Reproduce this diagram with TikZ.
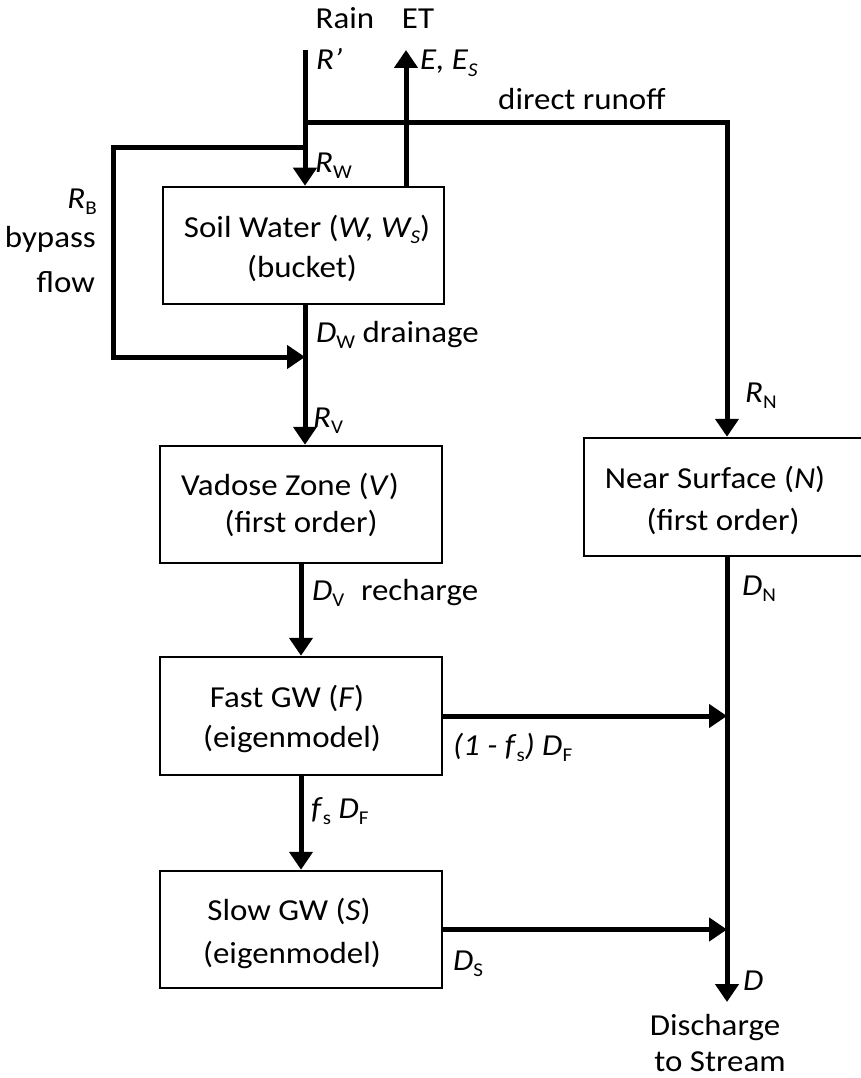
\documentclass[tikz,border=0pt]{standalone}
\usepackage{fontspec}
\setmainfont{Carlito}[FakeStretch=1.08]
\usetikzlibrary{arrows.meta}
\newcommand\dfont{\fontsize{30.5}{39}\selectfont}
\newcommand\sbs[1]{\raisebox{-6.5pt}{\fontsize{19.5}{19.5}\selectfont #1}}
\tikzset{
  box/.style={draw, line width=2.5pt, inner sep=0pt},
  flow/.style={line width=5pt, -{Triangle[length=18pt 0 0,width=23pt 0]}},
  lbl/.style={inner sep=0pt, font=\dfont},
  lw/.style={lbl, anchor=base west},
  le/.style={lbl, anchor=base east},
  lc/.style={lbl, anchor=base},
}
\begin{document}
\begin{tikzpicture}[x=1pt,y=-1pt]
\useasboundingbox (0,0) rectangle (861,1078);
\clip (0,0) rectangle (861,1078);
\fill[white] (0,0) rectangle (861,1078);

% boxes
\node[box, minimum width=281pt, minimum height=117pt] (soil) at (303.5,245.5) {};
\node[box, minimum width=282pt, minimum height=117pt] (vadose) at (301,504.5) {};
\node[box, minimum width=282pt, minimum height=118pt] (fast) at (301,716) {};
\node[box, minimum width=282pt, minimum height=117pt] (slow) at (301,929.5) {};
\node[box, minimum width=286pt, minimum height=118pt] (near) at (727,497) {};

% coordinates
\coordinate (rtop) at (305,50);
\coordinate (ettop) at (406,50);
\coordinate (rsplit) at (305,123);
\coordinate (bsplit) at (305,148);
\coordinate (bcorner) at (113,357);
\coordinate (bjoin) at (305,357);
\coordinate (dout) at (727,1002);

% connectors
\draw[flow] (rtop) -- (rtop |- soil.north);
\draw[flow] (ettop |- soil.north) -- (ettop);
\draw[flow] (rsplit) -| (near.north);
\draw[flow] (bsplit) -| (bcorner) -- (bjoin);
\draw[flow] (soil.south -| bjoin) -- (bjoin |- vadose.north);
\draw[flow] (vadose.south) -- (fast.north);
\draw[flow] (fast.south) -- (slow.north);
\draw[flow] (near.south) -- (dout);
\draw[flow] (fast.east) -- (fast.east -| dout);
\draw[flow] (slow.east) -- (slow.east -| dout);

% labels
\node[lc] (rain) at (345,29) {Rain};
\node[lc] (et) at (418,29) {ET};
\node[lw] (rp) at (316,70) {\textit{R’}};
\node[lw] (ees) at (420,70) {\textit{E, E\sbs{S}}};
\node[lw] (dr) at (498,110) {direct runoff};
\node[lw] (rw) at (315,172) {\textit{R}\sbs{W}};
\node[lc] (soilt1) at (307,237) {Soil Water (\textit{W, W\sbs{S}})};
\node[lc] (soilt2) at (302,277) {(bucket)};
\node[le] (rb) at (97,208) {\textit{R}\sbs{B}};
\node[le] (rb2) at (96,247) {bypass};
\node[le] (rb3) at (95,292) {flow};
\node[lw] (dw) at (316,342) {\textit{D}\sbs{W} drainage};
\node[lw] (rv) at (313,427) {\textit{R}\sbs{V}};
\node[lc] (vt1) at (290,495) {Vadose Zone (\textit{V})};
\node[lc] (vt2) at (301,532) {(first order)};
\node[lw] (dv) at (312,600) {\textit{D}\sbs{V}\hspace{0.3em} recharge};
\node[lc] (ft1) at (287,707) {Fast GW (\textit{F})};
\node[lc] (ft2) at (292,747) {(eigenmodel)};
\node[lw] (df) at (453,755) {\textit{(1 - f}\sbs{s}\textit{) D}\sbs{F}};
\node[lw] (fsdf) at (311,818) {\textit{f}\sbs{s} \textit{D}\sbs{F}};
\node[lc] (st1) at (289,920) {Slow GW (\textit{S})};
\node[lc] (st2) at (292,963) {(eigenmodel)};
\node[lw] (ds) at (453,970) {\textit{D}\sbs{S}};
\node[lc] (nt1) at (715,488) {Near Surface (\textit{N})};
\node[lc] (nt2) at (723,530) {(first order)};
\node[lw] (rn) at (745,402) {\textit{R}\sbs{N}};
\node[lw] (dn) at (742,595) {\textit{D}\sbs{N}};
\node[lw] (dd) at (743,990) {\textit{D}};
\node[lc] (dis1) at (715,1035) {Discharge};
\node[lc] (dis2) at (720,1071) {to Stream};
\end{tikzpicture}
\end{document}
